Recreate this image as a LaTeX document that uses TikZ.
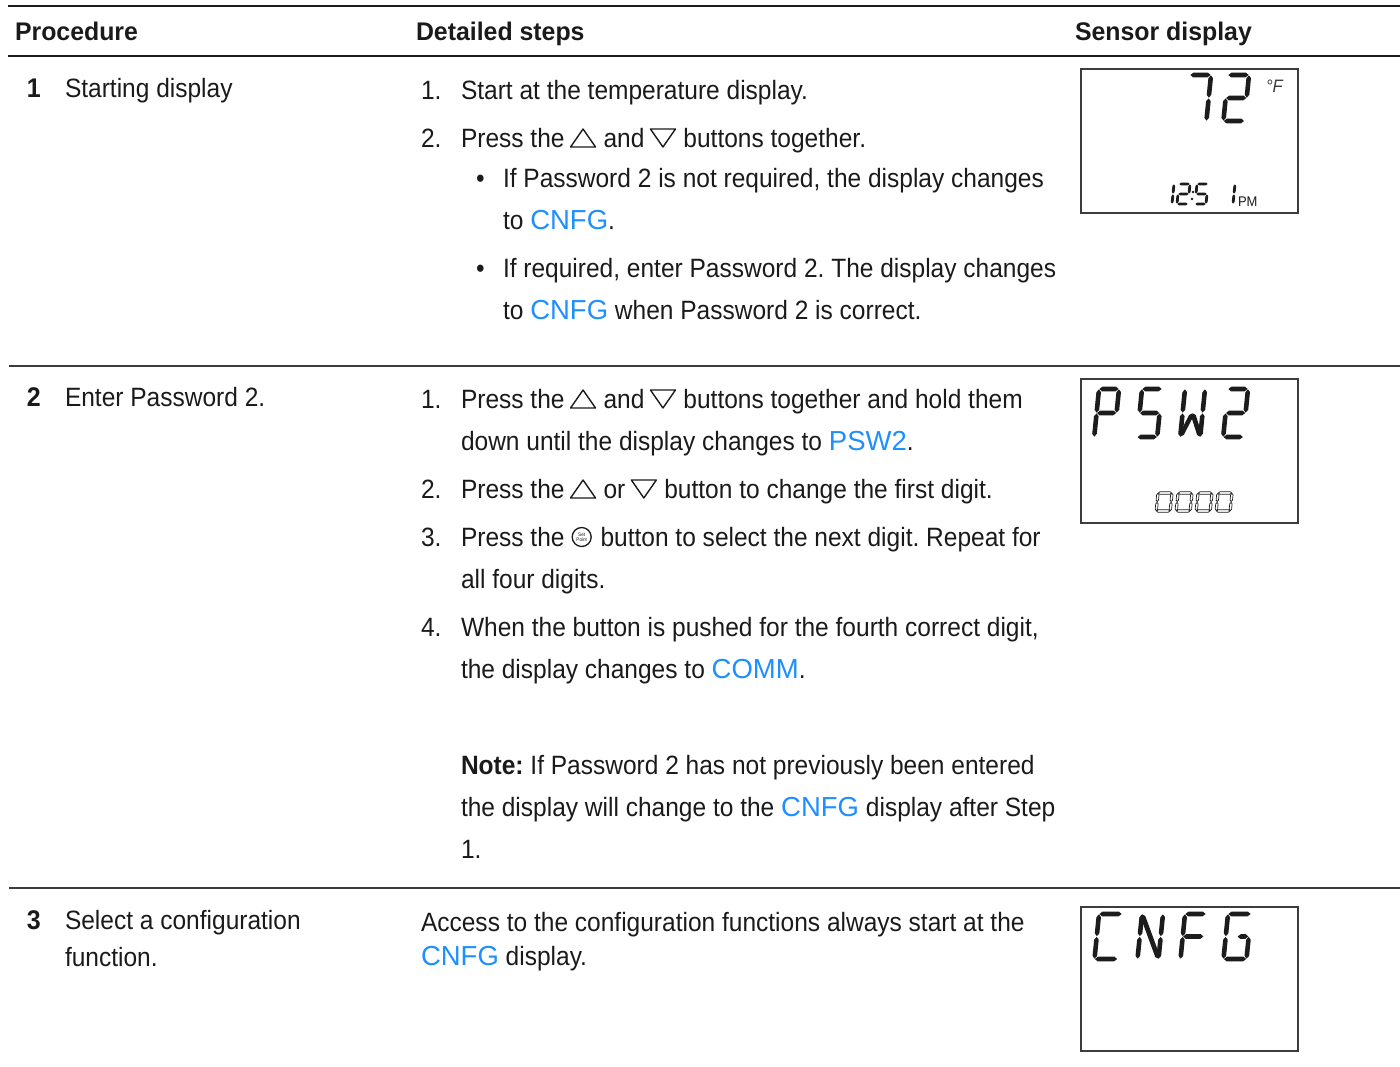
\documentclass[tikz,border=0pt]{standalone}
\usepackage{fontspec}
\usetikzlibrary{calc}
\setmainfont{Liberation Sans}[FakeStretch=0.925]
\newfontfamily\hdfont{Liberation Sans}[FakeStretch=0.975]
\newfontfamily\blfont{Liberation Sans}
\definecolor{ink}{HTML}{1A1A1A}
\definecolor{lnk}{HTML}{1E8FFF}
\definecolor{lcdink}{HTML}{1C1C1C}
\newcommand\cb[1]{{\blfont\fontsize{27.5}{32}\selectfont\color{lnk}#1}}
% LCD segment drawing
\newcommand\sgm[2]{\path[\segsty] ($#1!\sgG!#2$) -- ($#1!\sgT!#2!\sgH!90:#2$) -- ($#2!\sgT!#1!\sgH!-90:#1$) -- ($#2!\sgG!#1$) -- ($#2!\sgT!#1!\sgH!90:#1$) -- ($#1!\sgT!#2!\sgH!-90:#2$) -- cycle;}
\def\segA{\sgm{(0,0)}{(\sgW,0)}}
\def\segB{\sgm{(\sgW,0)}{(\sgW,\sgV/2)}}
\def\segC{\sgm{(\sgW,\sgV/2)}{(\sgW,\sgV)}}
\def\segD{\sgm{(0,\sgV)}{(\sgW,\sgV)}}
\def\segE{\sgm{(0,\sgV/2)}{(0,\sgV)}}
\def\segF{\sgm{(0,0)}{(0,\sgV/2)}}
\def\segG{\sgm{(0,\sgV/2)}{(\sgW,\sgV/2)}}
\def\segR{\sgm{(\sgW/2,\sgV/2)}{(\sgW,\sgV/2)}}
\def\segN{\sgm{(0,0)}{(\sgW,\sgV)}}
\def\segWa{\sgm{(0,\sgV)}{(\sgW/2,\sgV/2)}}
\def\segWb{\sgm{(\sgW/2,\sgV/2)}{(\sgW,\sgV)}}
\newcommand\lcd[7]{%
\begin{scope}[shift={(#1,#2)}, xslant=0.1]
\def\sgW{#3}\def\sgV{#4}\def\sgH{#5pt}\def\sgG{0.4pt}%
\pgfmathsetmacro\sgTn{#5*1.2+0.4}\edef\sgT{\sgTn pt}\def\segsty{#6}%
#7
\end{scope}}
% inline triangles
\newcommand\uptri[2]{\coordinate (#1w) at ($(#2.base east)+(6,0)$);
 \draw[tri] (#1w) -- ++(25,0) -- ++(-12.5,-18) -- cycle;
 \coordinate (#1) at ($(#1w)+(33,0)$);}
\newcommand\dntri[2]{\coordinate (#1w) at ($(#2.base east)+(6,0)$);
 \draw[tri] ($(#1w)+(0,-18)$) -- ++(25,0) -- ++(-12.5,18) -- cycle;
 \coordinate (#1) at ($(#1w)+(33,0)$);}
\begin{document}
\frenchspacing
\begin{tikzpicture}[x=1pt,y=-1pt,
  txt/.style={anchor=base west, inner sep=0pt, outer sep=0pt, font=\frenchspacing\fontsize{26.5}{32}\selectfont, text=ink},
  hd/.style={txt, font=\hdfont\bfseries\fontsize{25.5}{30}\selectfont},
  num/.style={txt, font=\bfseries\fontsize{27}{32}\selectfont},
  tri/.style={draw=ink, line width=1.4pt, line join=round},
  lcdbox/.style={draw=ink!85, line width=1.3pt},
  lcdfill/.style={fill=lcdink},
  lcdthin/.style={draw=lcdink, line width=0.7pt},
  rulethick/.style={draw=ink, line width=2.4pt},
  rulemid/.style={draw=ink, line width=2pt},
  rulethin/.style={draw=ink!85, line width=1.3pt}]
\useasboundingbox (0,0) rectangle (1400,1066);
% rules
\draw[rulethick] (8,6) -- (1400,6);
\draw[rulemid] (8,56) -- (1400,56);
\draw[rulethin] (9,366) -- (1400,366);
\draw[rulethin] (9,888) -- (1400,888);
% header
\node[hd] (h1) at (15,40) {Procedure};
\node[hd] (h2) at (416,40) {Detailed steps};
\node[hd] (h3) at (1075,40) {Sensor display};
% ---------------- row 1
\node[num] (r1n) at (27,97) {1};
\node[txt] (r1t) at (65,97) {Starting display};
\node[txt] (s11n) at (421,99) {1.};
\node[txt] (s11) at (461,99) {Start at the temperature display.};
\node[txt] (s12n) at (421,147) {2.};
\node[txt] (s12a) at (461,147) {Press the};
\uptri{ta}{s12a}
\node[txt] (s12b) at (ta) {and};
\dntri{tb}{s12b}
\node[txt] (s12c) at (tb) {buttons together.};
\node[txt] (b1) at (476,187) {•};
\node[txt] (s13) at (503,187) {If Password 2 is not required, the display changes};
\node[txt] (s14) at (503,229) {to \cb{CNFG}.};
\node[txt] (b2) at (476,277) {•};
\node[txt] (s15) at (503,277) {If required, enter Password 2. The display changes};
\node[txt] (s16) at (503,319) {to \cb{CNFG} when Password 2 is correct.};
% display 1
\draw[lcdbox] (1081,69) rectangle (1298,213);
\lcd{1190}{75}{21}{46}{2.3}{lcdfill}{\segA\segB\segC}
\lcd{1228}{75}{21}{46}{2.3}{lcdfill}{\segA\segB\segG\segE\segD}
\node[txt, font=\itshape\fontsize{18}{18}\selectfont, text=ink!85] (degf) at (1266,92) {°F};
\lcd{1163}{184}{11}{20}{1.4}{lcdfill}{\segB\segC}
\lcd{1179}{184}{11}{20}{1.4}{lcdfill}{\segA\segB\segG\segE\segD}
\fill[lcdink] (1193,192) circle (1.4) (1192,199) circle (1.4);
\lcd{1197}{184}{11}{20}{1.4}{lcdfill}{\segA\segF\segG\segC\segD}
\lcd{1224}{184}{11}{20}{1.4}{lcdfill}{\segB\segC}
\node[txt, font=\fontsize{14}{14}\selectfont] (pm) at (1238,206) {PM};
% ---------------- row 2
\node[num] (r2n) at (27,406) {2};
\node[txt] (r2t) at (65,406) {Enter Password 2.};
\node[txt] (s21n) at (421,408) {1.};
\node[txt] (s21a) at (461,408) {Press the};
\uptri{tc}{s21a}
\node[txt] (s21b) at (tc) {and};
\dntri{td}{s21b}
\node[txt] (s21c) at (td) {buttons together and hold them};
\node[txt] (s21d) at (461,450) {down until the display changes to \cb{PSW2}.};
\node[txt] (s22n) at (421,498) {2.};
\node[txt] (s22a) at (461,498) {Press the};
\uptri{te}{s22a}
\node[txt] (s22b) at (te) {or};
\dntri{tf}{s22b}
\node[txt] (s22c) at (tf) {button to change the first digit.};
\node[txt] (s23n) at (421,546) {3.};
\node[txt] (s23a) at (461,546) {Press the};
\node[circle, draw=ink, line width=1.3pt, minimum size=19pt, inner sep=0pt, anchor=west,
  font=\fontsize{5}{5.2}\selectfont, align=center, text=ink] (sp) at ($(s23a.base east)+(7,-9)$) {Set\\Point};
\node[txt] (s23b) at ($(s23a.base east)+(36,0)$) {button to select the next digit. Repeat for};
\node[txt] (s23c) at (461,588) {all four digits.};
\node[txt] (s24n) at (421,636) {4.};
\node[txt] (s24) at (461,636) {When the button is pushed for the fourth correct digit,};
\node[txt] (s24b) at (461,678) {the display changes to \cb{COMM}.};
\node[txt] (nt1) at (461,774) {{\bfseries Note:} If Password 2 has not previously been entered};
\node[txt] (nt2) at (461,816) {the display will change to the \cb{CNFG} display after Step};
\node[txt] (nt3) at (461,858) {1.};
% display 2
\draw[lcdbox] (1081,379) rectangle (1298,523);
\lcd{1099}{389}{20}{48}{2.3}{lcdfill}{\segA\segB\segF\segG\segE}
\lcd{1142}{389}{20}{48}{2.3}{lcdfill}{\segA\segF\segG\segC\segD}
\lcd{1185}{389}{20}{48}{2.3}{lcdfill}{\segF\segE\segB\segC\segWa\segWb}
\lcd{1228}{389}{20}{48}{2.3}{lcdfill}{\segA\segB\segG\segE\segD}
\lcd{1158}{493}{14}{18}{1.2}{lcdthin}{\segA\segB\segC\segD\segE\segF}
\lcd{1178}{493}{14}{18}{1.2}{lcdthin}{\segA\segB\segC\segD\segE\segF}
\lcd{1198}{493}{14}{18}{1.2}{lcdthin}{\segA\segB\segC\segD\segE\segF}
\lcd{1218}{493}{14}{18}{1.2}{lcdthin}{\segA\segB\segC\segD\segE\segF}
% ---------------- row 3
\node[num] (r3n) at (27,929) {3};
\node[txt] (r3t) at (65,929) {Select a configuration};
\node[txt] (r3u) at (65,966) {function.};
\node[txt] (s31) at (421,931) {Access to the configuration functions always start at the};
\node[txt] (s32) at (421,965) {\cb{CNFG} display.};
% display 3
\draw[lcdbox] (1081,907) rectangle (1298,1051);
\lcd{1099}{914}{23}{45}{2.3}{lcdfill}{\segA\segF\segE\segD}
\lcd{1142}{914}{21}{45}{2.3}{lcdfill}{\segF\segE\segB\segC\segN}
\lcd{1185}{914}{21}{45}{2.3}{lcdfill}{\segA\segF\segE\segG}
\lcd{1228}{914}{23}{45}{2.3}{lcdfill}{\segA\segF\segE\segD\segC\segR}
\end{tikzpicture}
\end{document}
